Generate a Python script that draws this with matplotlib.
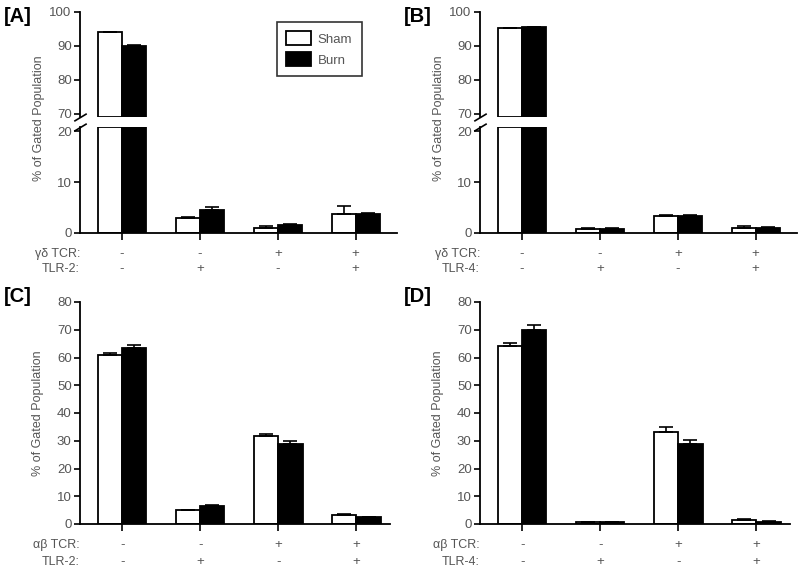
import numpy as np
import matplotlib.pyplot as plt

plt.rcParams['font.family'] = ['Liberation Sans', 'DejaVu Sans']

# data
groups = [0, 1, 2, 3]
row1_signs = ['-', '-', '+', '+']
row2_signs = ['-', '+', '-', '+']

A_sham = [94.1, 3.0, 1.0, 3.8]
A_sham_err = [0.1, 0.1, 0.3, 1.5]
A_burn = [90.0, 4.6, 1.6, 3.7]
A_burn_err = [0.3, 0.5, 0.2, 0.2]

B_sham = [95.2, 0.85, 3.4, 1.0]
B_sham_err = [0.1, 0.15, 0.1, 0.3]
B_burn = [95.5, 0.85, 3.4, 1.0]
B_burn_err = [0.1, 0.15, 0.1, 0.1]

C_sham = [60.8, 4.9, 31.8, 3.4]
C_sham_err = [1.0, 0.2, 0.8, 0.3]
C_burn = [63.5, 6.5, 28.7, 2.4]
C_burn_err = [1.0, 0.3, 1.1, 0.2]

D_sham = [64.0, 0.7, 33.2, 1.6]
D_sham_err = [1.2, 0.1, 1.6, 0.2]
D_burn = [70.0, 0.8, 28.8, 0.9]
D_burn_err = [1.7, 0.1, 1.3, 0.1]

W, H = 800, 572
GRAY = '#555555'
bw = 0.31
fs = 9.5
fig = plt.figure(figsize=(8, 5.72), dpi=100)


def px_axes(x0, y0, x1, y1):
    return fig.add_axes([x0 / W, 1 - y1 / H, (x1 - x0) / W, (y1 - y0) / H])


def style(ax, lw=1.3):
    for s in ['top', 'right']:
        ax.spines[s].set_visible(False)
    for s in ['left', 'bottom']:
        ax.spines[s].set_linewidth(lw)
    ax.tick_params(axis='y', direction='out', length=4, width=1.2,
                   labelsize=fs, labelcolor=GRAY, pad=2)
    ax.tick_params(axis='x', direction='out', length=5, width=1.2,
                   labelsize=fs, labelcolor=GRAY)


def bars(ax, sham, sham_err, burn, burn_err, bottom=0, top=None):
    x = np.array(groups, dtype=float)
    for xs, vals, errs, fc in [(x - bw / 2, sham, sham_err, 'white'),
                               (x + bw / 2, burn, burn_err, 'black')]:
        vals = np.array(vals)
        errs = np.array(errs)
        keep = vals > bottom
        h = vals if top is None else np.minimum(vals, top)
        ax.bar(xs[keep], h[keep] - bottom, bw, bottom=bottom, color=fc,
               edgecolor='black', linewidth=1.3, zorder=2)
        ax.errorbar(xs[keep], vals[keep],
                    yerr=[np.zeros(keep.sum()), errs[keep]], fmt='none',
                    ecolor='black', elinewidth=1.2, capsize=5,
                    capthick=1.2, zorder=3)


def row_labels(ax, name1, name2, off1, off2):
    ax.set_xticks(groups)
    ax.set_xticklabels([''] * 4)
    for g, s1, s2 in zip(groups, row1_signs, row2_signs):
        ax.annotate(s1, (g, 0), xycoords=('data', 'axes fraction'),
                    xytext=(0, -off1), textcoords='offset points',
                    ha='center', va='center', fontsize=fs, color=GRAY)
        ax.annotate(s2, (g, 0), xycoords=('data', 'axes fraction'),
                    xytext=(0, -off2), textcoords='offset points',
                    ha='center', va='center', fontsize=fs, color=GRAY)
    ax.annotate(name1, (0, 0), xycoords='axes fraction',
                xytext=(0, -off1), textcoords='offset points',
                ha='right', va='center', fontsize=fs - 0.5, color=GRAY)
    ax.annotate(name2, (0, 0), xycoords='axes fraction',
                xytext=(0, -off2), textcoords='offset points',
                ha='right', va='center', fontsize=fs - 0.5, color=GRAY)


def broken_panel(x0, sham, sham_err, burn, burn_err, name1, name2, letter):
    up = px_axes(x0, 12, x0 + 317, 117)
    lo = px_axes(x0, 127, x0 + 317, 233)
    for ax in (up, lo):
        style(ax)
        ax.set_xlim(-0.54, 3.53)
    up.spines['bottom'].set_visible(False)
    up.set_ylim(69.1, 100)
    up.set_yticks([70, 80, 90, 100])
    up.set_xticks([])
    lo.set_ylim(0, 20.8)
    lo.set_yticks([0, 10, 20])
    bars(up, sham, sham_err, burn, burn_err, bottom=69.1)
    bars(lo, sham, sham_err, burn, burn_err, top=20.8)
    kw = dict(marker=[(-1, -0.6), (1, 0.6)], markersize=9, linestyle='none',
              color='k', mec='k', mew=1.2, clip_on=False)
    up.plot([0], [0], transform=up.transAxes, **kw)
    lo.plot([0], [1], transform=lo.transAxes, **kw)
    row_labels(lo, name1, name2, 15, 26)
    fig.text((x0 - 41) / W, 1 - 118 / H, '% of Gated Population',
             rotation=90, ha='center', va='center', fontsize=9, color=GRAY)
    fig.text((x0 - 76) / W, 1 - 17 / H, '[' + letter + ']',
             ha='left', va='center', fontsize=14.5, fontweight='bold')
    return up


def plain_panel(x0, sham, sham_err, burn, burn_err, name1, name2, letter):
    ax = px_axes(x0, 302, x0 + 310, 524)
    style(ax)
    ax.set_xlim(-0.54, 3.43)
    ax.set_ylim(0, 80)
    ax.set_yticks(range(0, 81, 10))
    bars(ax, sham, sham_err, burn, burn_err)
    row_labels(ax, name1, name2, 15, 27.5)
    fig.text((x0 - 42) / W, 1 - 413 / H, '% of Gated Population',
             rotation=90, ha='center', va='center', fontsize=9, color=GRAY)
    fig.text((x0 - 76) / W, 1 - 297 / H, '[' + letter + ']',
             ha='left', va='center', fontsize=14.5, fontweight='bold')
    return ax


axA = broken_panel(80, A_sham, A_sham_err, A_burn, A_burn_err,
                   'γδ TCR:', 'TLR-2:', 'A')
broken_panel(480, B_sham, B_sham_err, B_burn, B_burn_err,
             'γδ TCR:', 'TLR-4:', 'B')
plain_panel(80, C_sham, C_sham_err, C_burn, C_burn_err,
            'αβ TCR:', 'TLR-2:', 'C')
plain_panel(480, D_sham, D_sham_err, D_burn, D_burn_err,
            'αβ TCR:', 'TLR-4:', 'D')

h1 = plt.Rectangle((0, 0), 1, 1, fc='white', ec='black', lw=1.3)
h2 = plt.Rectangle((0, 0), 1, 1, fc='black', ec='black', lw=1.3)
leg = fig.legend([h1, h2], ['Sham', 'Burn'], loc='upper left',
                 bbox_to_anchor=(277 / W, 1 - 22 / H), fontsize=fs,
                 frameon=True, fancybox=False, handlelength=1.9,
                 handleheight=1.25, labelspacing=0.5, borderpad=0.7,
                 handletextpad=0.5, borderaxespad=0)
leg.get_frame().set_edgecolor('black')
leg.get_frame().set_linewidth(1.2)
for t in leg.get_texts():
    t.set_color(GRAY)

fig.savefig('out.png', dpi=100)
